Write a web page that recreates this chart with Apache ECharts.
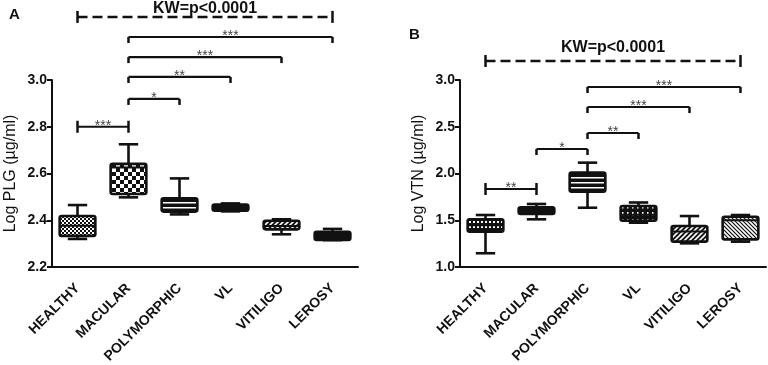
<!DOCTYPE html>
<html>
<head>
<meta charset="utf-8">
<script src="https://cdn.jsdelivr.net/npm/echarts@6/dist/echarts.min.js"></script>
<style>
html, body { margin: 0; padding: 0; background: #fff; }
#main { width: 768px; height: 365px; }
</style>
</head>
<body>
<div id="main"></div>
<script>
var groups = ['HEALTHY', 'MACULAR', 'POLYMORPHIC', 'VL', 'VITILIGO', 'LEROSY'];

// [min, q1, median, q3, max] for each group
var plgBoxes = [
  [2.320, 2.333, 2.377, 2.418, 2.465],
  [2.498, 2.512, 2.626, 2.641, 2.725],
  [2.425, 2.437, 2.465, 2.494, 2.579],
  [2.438, 2.441, 2.455, 2.467, 2.472],
  [2.340, 2.361, 2.375, 2.398, 2.404],
  [2.315, 2.316, 2.335, 2.351, 2.363]
];
var vtnBoxes = [
  [1.147, 1.378, 1.446, 1.510, 1.556],
  [1.510, 1.567, 1.599, 1.638, 1.674],
  [1.634, 1.805, 1.920, 2.009, 2.116],
  [1.474, 1.495, 1.560, 1.652, 1.690],
  [1.253, 1.271, 1.380, 1.438, 1.545],
  [1.271, 1.295, 1.500, 1.538, 1.556]
];

// comparisons: [from group, to group, level]
var plgPairs = [[0, 5, 3.270], [1, 5, 3.184], [1, 4, 3.098], [1, 3, 3.013], [1, 2, 2.919], [0, 1, 2.800]];
var plgLabels = ['KW=p<0.0001', '***', '***', '**', '*', '***'];
var vtnPairs = [[0, 5, 3.203], [2, 5, 2.925], [2, 4, 2.711], [2, 3, 2.433], [1, 2, 2.262], [0, 1, 1.834]];
var vtnLabels = ['KW=p<0.0001', '***', '***', '**', '*', '**'];

var FONT = '"Liberation Sans", Arial, sans-serif';
var INK = '#111';

function tile(w, h, draw) {
  var c = document.createElement('canvas');
  c.width = w; c.height = h;
  var g = c.getContext('2d');
  g.fillStyle = INK; g.fillRect(0, 0, w, h);
  g.fillStyle = '#fff'; g.strokeStyle = '#fff';
  draw(g, w, h);
  return { image: c, repeat: 'repeat' };
}
function slash(dir) {
  return function (g, w, h) {
    g.lineWidth = 1.6;
    g.beginPath();
    for (var k = -1; k <= 1; k++) {
      if (dir > 0) { g.moveTo(k * w - 1, h + 1); g.lineTo(k * w + w + 1, -1); }
      else { g.moveTo(k * w - 1, -1); g.lineTo(k * w + w + 1, h + 1); }
    }
    g.stroke();
  };
}
var fills = {
  fineCheck: tile(4, 4, function (g) { g.fillRect(0, 0, 2, 2); g.fillRect(2, 2, 2, 2); }),
  bigCheck: tile(8, 8, function (g) { g.fillRect(0, 0, 4, 4); g.fillRect(4, 4, 4, 4); }),
  hlines: tile(4, 5, function (g) { g.fillRect(0, 2, 4, 1.5); }),
  solid: INK,
  dots: tile(4, 5, function (g) { g.fillRect(1, 1, 2, 2); }),
  dashes: tile(8, 7, function (g) { g.fillRect(2, 3, 4, 1.5); }),
  vdashes: tile(5, 7, function (g) { g.fillRect(2, 2, 1.5, 3.5); }),
  diag: tile(5, 5, slash(1)),
  diagBack: tile(4, 4, slash(-1))
};
var plgFills = ['fineCheck', 'bigCheck', 'hlines', 'solid', 'diag', 'solid'];
var vtnFills = ['dots', 'dashes', 'hlines', 'vdashes', 'diag', 'diagBack'];

function boxRender(fillNames) {
  return function (params, api) {
    var i = api.value(0);
    var band = api.size([1, 0])[0];
    var half = band * 0.35, cap = band * 0.19;
    var x = api.coord([i, api.value(1)])[0];
    var yMin = api.coord([i, api.value(1)])[1];
    var yQ1 = api.coord([i, api.value(2)])[1];
    var yMed = api.coord([i, api.value(3)])[1];
    var yQ3 = api.coord([i, api.value(4)])[1];
    var yMax = api.coord([i, api.value(5)])[1];
    var line = { stroke: INK, lineWidth: 2.6 };
    return {
      type: 'group',
      children: [
        { type: 'line', shape: { x1: x, y1: yMin, x2: x, y2: yMax }, style: line },
        { type: 'line', shape: { x1: x - cap, y1: yMin, x2: x + cap, y2: yMin }, style: line },
        { type: 'line', shape: { x1: x - cap, y1: yMax, x2: x + cap, y2: yMax }, style: line },
        { type: 'rect', shape: { x: x - half, y: yQ3, width: half * 2, height: yQ1 - yQ3, r: 2 },
          style: { fill: fills[fillNames[params.dataIndex]], stroke: INK, lineWidth: 2.6 } },
        { type: 'line', shape: { x1: x - half, y1: yMed, x2: x + half, y2: yMed }, style: { stroke: INK, lineWidth: 2 } }
      ]
    };
  };
}

function bracketRender(labels, kwGap) {
  return function (params, api) {
    var a = api.coord([api.value(0), api.value(2)]);
    var b = api.coord([api.value(1), api.value(2)]);
    var label = labels[params.dataIndex];
    var kw = label.indexOf('KW') === 0;
    var both = api.value(0) === 0;
    var st = { stroke: INK, lineWidth: kw ? 2.5 : 2.2, lineDash: kw ? [10, 5] : null };
    var capSt = { stroke: INK, lineWidth: 2.5 };
    var up = both ? 6 : 0, down = 6;
    var mid = (a[0] + b[0]) / 2;
    return {
      type: 'group',
      children: [
        { type: 'line', shape: { x1: a[0], y1: a[1], x2: b[0], y2: b[1] }, style: st },
        { type: 'line', shape: { x1: a[0], y1: a[1] - up, x2: a[0], y2: a[1] + down }, style: capSt },
        { type: 'line', shape: { x1: b[0], y1: b[1] - up, x2: b[0], y2: b[1] + down }, style: capSt },
        kw ? { type: 'text', style: { text: label, x: mid, y: a[1] - kwGap, align: 'center', verticalAlign: 'bottom',
                 fontSize: 16, fontWeight: 'bold', fontFamily: FONT, fill: INK } }
           : { type: 'text', style: { text: label, x: mid, y: a[1] - 1, align: 'center', verticalAlign: 'middle',
                 fontSize: 14, fontFamily: FONT, fill: '#444' } }
      ]
    };
  };
}

function yAxis(idx, name, min, max, step) {
  return {
    gridIndex: idx, type: 'value', min: min, max: max, interval: step,
    name: name, nameLocation: 'middle', nameGap: 33,
    nameTextStyle: { fontSize: 16, color: INK, fontFamily: FONT },
    axisLine: { show: true, lineStyle: { color: INK, width: 2 } },
    axisTick: { show: true, length: 5, lineStyle: { color: INK, width: 2 } },
    axisLabel: { formatter: function (v) { return v.toFixed(1); }, fontWeight: 'bold', fontSize: 14,
      color: INK, fontFamily: FONT, margin: 5 },
    splitLine: { show: false }
  };
}
function xAxis(idx) {
  return {
    gridIndex: idx, type: 'category', data: groups,
    axisLine: { lineStyle: { color: INK, width: 2 } },
    axisTick: { alignWithLabel: true, length: 6, lineStyle: { color: INK, width: 2 } },
    axisLabel: { rotate: 45, interval: 0, fontWeight: 'bold', fontSize: 14, color: INK, fontFamily: FONT, margin: 19 }
  };
}
function boxData(boxes) {
  return boxes.map(function (b, i) { return [i].concat(b); });
}

var chart = echarts.init(document.getElementById('main'), null, { renderer: 'canvas' });
chart.setOption({
  animation: false,
  backgroundColor: '#fff',
  textStyle: { fontFamily: FONT },
  title: [
    { text: 'A', left: 4, top: 2, textStyle: { fontSize: 15, fontWeight: 'bold', color: INK, fontFamily: FONT } },
    { text: 'B', left: 404, top: 22, textStyle: { fontSize: 15, fontWeight: 'bold', color: INK, fontFamily: FONT } }
  ],
  grid: [
    { left: 52, top: 80, width: 306, height: 187, outerBoundsMode: 'none' },
    { left: 460, top: 80, width: 306, height: 187, outerBoundsMode: 'none' }
  ],
  xAxis: [xAxis(0), xAxis(1)],
  yAxis: [
    yAxis(0, 'Log PLG (\u00b5g/ml)', 2.2, 3.0, 0.2),
    yAxis(1, 'Log VTN (\u00b5g/ml)', 1.0, 3.0, 0.5)
  ],
  series: [
    { type: 'custom', xAxisIndex: 0, yAxisIndex: 0, renderItem: boxRender(plgFills),
      encode: { x: 0, y: [1, 2, 3, 4, 5] }, data: boxData(plgBoxes) },
    { type: 'custom', xAxisIndex: 1, yAxisIndex: 1, renderItem: boxRender(vtnFills),
      encode: { x: 0, y: [1, 2, 3, 4, 5] }, data: boxData(vtnBoxes) },
    { type: 'custom', xAxisIndex: 0, yAxisIndex: 0, clip: false, renderItem: bracketRender(plgLabels, 0),
      encode: { x: [0, 1], y: 2 }, data: plgPairs },
    { type: 'custom', xAxisIndex: 1, yAxisIndex: 1, clip: false, renderItem: bracketRender(vtnLabels, 5),
      encode: { x: [0, 1], y: 2 }, data: vtnPairs }
  ]
});
</script>
</body>
</html>
